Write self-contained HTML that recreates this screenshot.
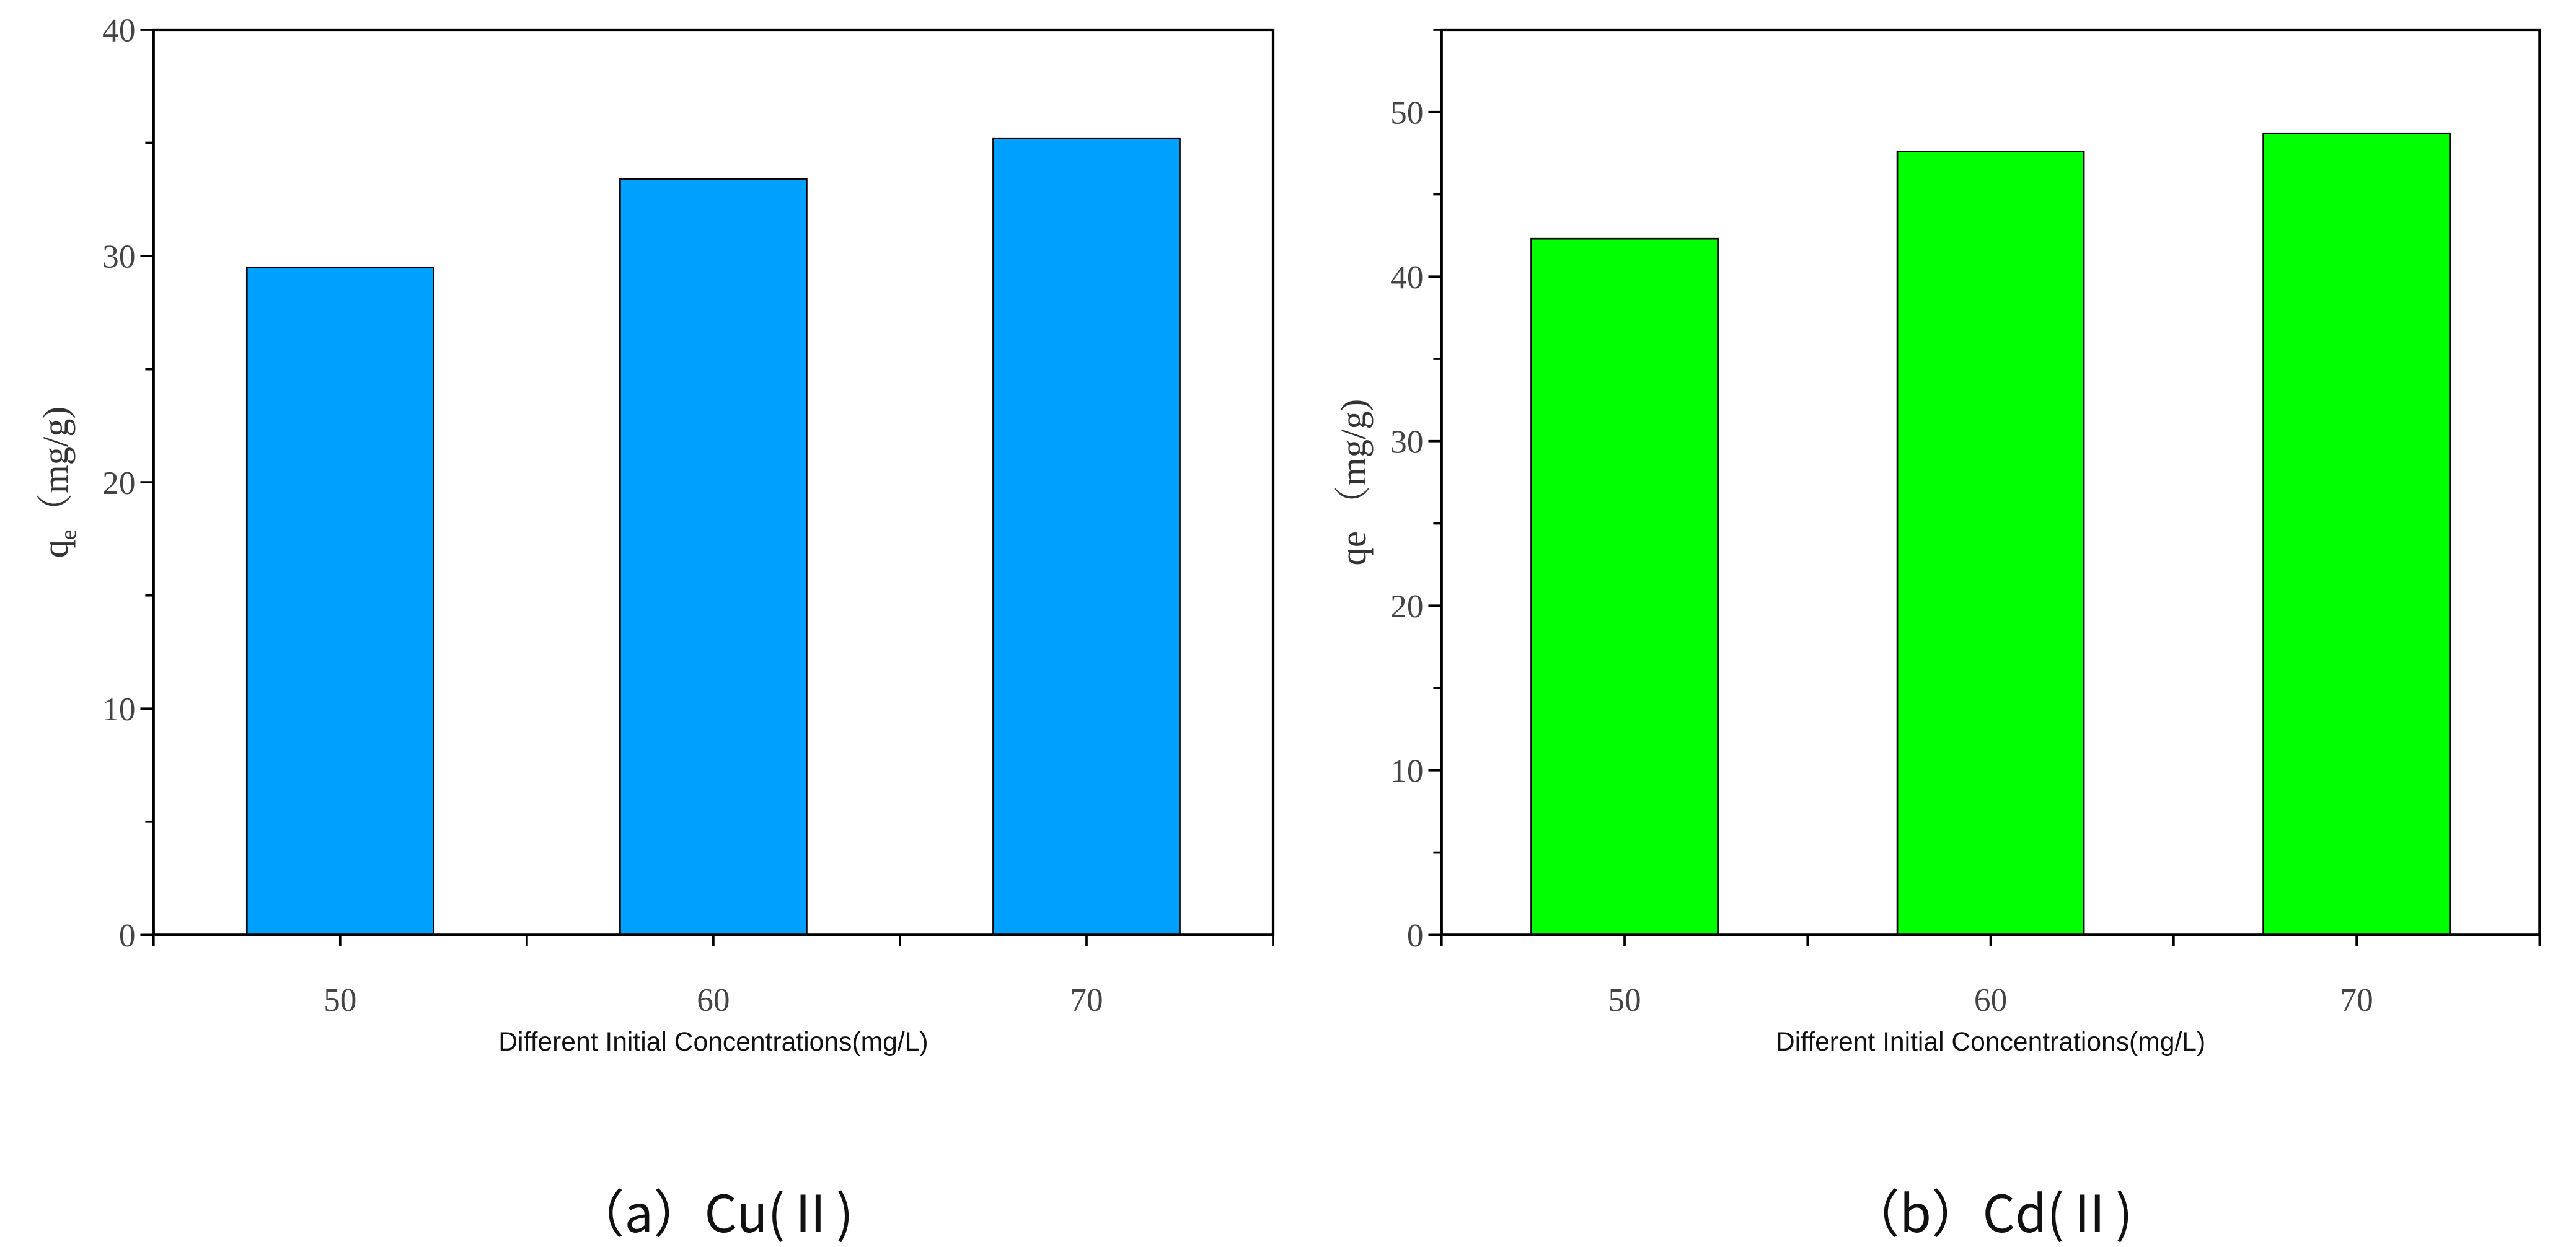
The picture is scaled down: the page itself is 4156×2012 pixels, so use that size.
<!DOCTYPE html>
<html><head><meta charset="utf-8"><style>
html,body{margin:0;padding:0;background:#fff;}
svg{display:block;}
</style></head><body>
<svg id="fig" xmlns="http://www.w3.org/2000/svg" width="4156" height="2012" viewBox="0 0 1560 755" preserveAspectRatio="none">
<rect x="0" y="0" width="1560" height="755" fill="#fff"/>
</svg>
<script>
const categories = ["50","60","70"];
const cuValues = [29.5, 33.4, 35.2];
const cdValues = [42.3, 47.6, 48.7];
const cuTicks = [0,10,20,30,40];
const cdTicks = [0,10,20,30,40,50];

const NS = "http://www.w3.org/2000/svg";
const svg = document.getElementById('fig');
function el(tag, attrs, parent, text){
  const e = document.createElementNS(NS, tag);
  for (const k in attrs) e.setAttribute(k, attrs[k]);
  if (text !== undefined) e.textContent = text;
  (parent||svg).appendChild(e);
  return e;
}

function panel(cfg){
  const g = el('g', {});
  
  
  const L = cfg.left, R = cfg.right, T = 18, B = 566;
  const yS = v => B - v / cfg.ymax * (B - T);
  const step = (R - L) / 3;
  const xS = i => L + step * (i + 0.5);
  const bw = 113;
  cfg.values.forEach((v, i) => {
    const r = el('rect', {x: xS(i) - bw/2, y: yS(v), width: bw, height: B - yS(v), fill: cfg.color, stroke: '#000', 'stroke-width': 1}, g);
    
    
  });
  const fr = el('rect', {x: L, y: T, width: R - L, height: B - T, fill: 'none', stroke: '#000', 'stroke-width': 1.6}, g);
  
  
  for (let v = 0; v <= cfg.ymax + 0.01; v += 5) {
    const major = v % 10 === 0;
    el('line', {x1: L, x2: L - (major ? 8 : 5), y1: yS(v), y2: yS(v), stroke: '#000', 'stroke-width': 1.4}, g);
  }
  cfg.ticks.forEach(v => {
    const t = el('text', {x: L - 11, y: yS(v) + 7, 'text-anchor': 'end', 'font-family': 'Liberation Serif, serif', 'font-size': 20, fill: '#444', transform: ''}, g, String(v));
    
    
  });
  for (let k = 0; k <= 6; k++) {
    const x = L + step * k / 2;
    el('line', {x1: x, x2: x, y1: B, y2: B + 7, stroke: '#000', 'stroke-width': 1.4}, g);
  }
  categories.forEach((c, i) => {
    const t = el('text', {x: xS(i), y: 612, 'text-anchor': 'middle', 'font-family': 'Liberation Serif, serif', 'font-size': 20, fill: '#444'}, g, c);
    
    
  });
  const xt = el('text', {x: (L + R) / 2, y: 636, 'text-anchor': 'middle', 'font-family': 'Liberation Sans, sans-serif', 'font-size': 16, fill: '#111'}, g, 'Different Initial Concentrations(mg/L)');
  
  
  const yt = el('text', {x: 0, y: 0, transform: 'translate(' + cfg.ytx + ',292) rotate(-90)', 'text-anchor': 'middle', 'font-family': 'Liberation Serif, "Noto Serif CJK SC", serif', 'font-size': 22, fill: '#333'}, g);
  
  
  if (cfg.prefix === 'cu') {
    el('tspan', {}, yt, 'q');
    el('tspan', {'font-size': 14, dy: 5}, yt, 'e');
    el('tspan', {dy: -5}, yt, '（mg/g)');
  } else {
    yt.textContent = 'qe （mg/g)';
  }
  const cap = el('text', {x: (L + R) / 2, y: 746, 'text-anchor': 'middle', 'font-family': '"Noto Sans CJK SC", sans-serif', 'font-size': 31, fill: '#111'}, g, cfg.caption);
  
  
}

panel({name: 'cu-chart', prefix: 'cu', left: 93, right: 771, ymax: 40, values: cuValues, ticks: cuTicks, color: '#00A0FF', ytx: 41, caption: '（a）Cu(Ⅱ)'});
panel({name: 'cd-chart', prefix: 'cd', left: 873, right: 1538, ymax: 55, values: cdValues, ticks: cdTicks, color: '#00FF00', ytx: 827, caption: '（b）Cd(Ⅱ)'});
</script>
</body></html>
